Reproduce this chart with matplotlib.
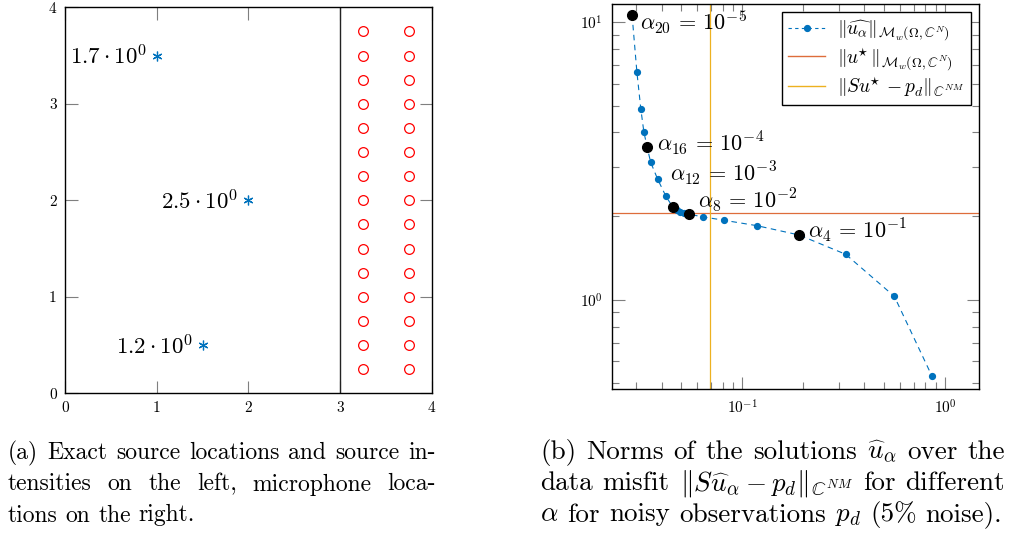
import numpy as np
import matplotlib
matplotlib.use("Agg")
import matplotlib.pyplot as plt
from matplotlib.lines import Line2D
from matplotlib.ticker import FixedLocator, FixedFormatter, NullFormatter, LogLocator

plt.rcParams['font.family'] = 'serif'
plt.rcParams['font.serif'] = ['cmr10']
plt.rcParams['mathtext.fontset'] = 'cm'
plt.rcParams['axes.formatter.use_mathtext'] = True
plt.rcParams['axes.unicode_minus'] = False

# ---------------- data: panel (a) ----------------
src_x = [1.0, 2.0, 1.5]
src_y = [3.5, 2.0, 0.5]
src_labels = [r'$1.7\cdot 10^{0}$', r'$2.5\cdot 10^{0}$', r'$1.2\cdot 10^{0}$']
mic_cols = [3.25, 3.75]
mic_rows = [0.25, 0.5, 0.75, 1.0, 1.25, 1.5, 1.75, 2.0, 2.25, 2.5, 2.75, 3.0, 3.25, 3.5, 3.75]
divider_x = 3.0
ticks_a = [0, 1, 2, 3, 4]

# ---------------- data: panel (b) ----------------
alpha_index = [20, 19, 18, 17, 16, 15, 14, 13, 12, 11, 10, 9, 8, 7, 6, 5, 4, 3, 2, 1]
misfit = [0.0286, 0.0302, 0.0316, 0.0327, 0.0339, 0.0353, 0.0382, 0.0420, 0.0455,
          0.0475, 0.0493, 0.0515, 0.0548, 0.0642, 0.0815, 0.1181, 0.1905, 0.3236, 0.5623, 0.863]
norm_u = [10.6, 6.62, 4.85, 4.02, 3.556, 3.13, 2.72, 2.357, 2.15,
          2.10, 2.07, 2.045, 2.03, 1.986, 1.931, 1.847, 1.71, 1.457, 1.028, 0.530]
marked = [20, 16, 12, 8, 4]
marked_exp = [-5, -4, -3, -2, -1]
norm_true = 2.058
misfit_true = 0.069

BLUE = '#0072BD'
ORANGE = '#D95319'
YELLOW = '#EDB120'
TICKC = '#7f7f7f'

fig = plt.figure(figsize=(10.11, 5.33), dpi=100)
W, H = 1011, 533

def px_axes(l, t, r, b):
    return [l / W, 1 - b / H, (r - l) / W, (b - t) / H]

# ---------------- panel (a) ----------------
ax1 = fig.add_axes(px_axes(65, 7.3, 431.7, 393.3))
ax1.set_xlim(0, 4)
ax1.set_ylim(0, 4)
ax1.axvline(divider_x, color='#222222', lw=1.0)
ax1.plot(src_x, src_y, ls='none', marker=(6, 2, 0), ms=7, mew=0.9, color=BLUE)
for x, y, lab in zip(src_x, src_y, src_labels):
    ax1.annotate(lab, xy=(x, y), xytext=(-10, -9), textcoords='offset pixels',
                 ha='right', va='baseline', fontsize=16.5)
for cx in mic_cols:
    ax1.plot([cx] * len(mic_rows), mic_rows, ls='none', marker='o', ms=7,
             mfc='none', mec='#ff0000', mew=0.9)
ax1.xaxis.set_major_locator(FixedLocator(ticks_a))
ax1.yaxis.set_major_locator(FixedLocator(ticks_a))
ax1.xaxis.set_major_formatter(FixedFormatter([str(t) for t in ticks_a]))
ax1.yaxis.set_major_formatter(FixedFormatter([str(t) for t in ticks_a]))
ax1.tick_params(direction='in', top=True, right=True, length=9, width=0.8,
                color=TICKC, labelsize=11, pad=6)
for s in ax1.spines.values():
    s.set_linewidth(1.0)

# ---------------- panel (b) ----------------
ax2 = fig.add_axes(px_axes(612.3, 4, 979.3, 389))
ax2.set_xscale('log')
ax2.set_yscale('log')
ax2.set_xlim(0.02285, 1.476)
ax2.set_ylim(0.477, 11.6)
ax2.axhline(norm_true, color=ORANGE, lw=0.9, zorder=1, alpha=0.85)
ax2.axvline(misfit_true, color=YELLOW, lw=0.9, zorder=1)
ax2.plot(misfit, norm_u, ls=(0, (5, 4)), lw=0.8, color=BLUE, marker='o', ms=4.2, zorder=3)
for k, e in zip(marked, marked_exp):
    i = alpha_index.index(k)
    ax2.plot(misfit[i], norm_u[i], 'o', color='black', ms=7, zorder=4)
label_off = {20: (8, -15), 16: (9.7, -4), 12: (-3, 26.5), 8: (9, 6.5), 4: (9.3, -2.3)}
for k, e in zip(marked, marked_exp):
    i = alpha_index.index(k)
    ax2.annotate(r'$\alpha_{%d}\,=\,10^{%d}$' % (k, e), xy=(misfit[i], norm_u[i]),
                 xytext=label_off[k], textcoords='offset pixels', ha='left',
                 va='baseline', fontsize=16, zorder=5)
ax2.xaxis.set_major_locator(FixedLocator([0.1, 1.0]))
ax2.xaxis.set_major_formatter(FixedFormatter([r'$10^{-1}$', r'$10^{0}$']))
ax2.yaxis.set_major_locator(FixedLocator([1.0, 10.0]))
ax2.yaxis.set_major_formatter(FixedFormatter([r'$10^{0}$', r'$10^{1}$']))
ax2.xaxis.set_minor_locator(LogLocator(base=10, subs=np.arange(2, 10), numticks=20))
ax2.yaxis.set_minor_locator(LogLocator(base=10, subs=np.arange(2, 10), numticks=20))
ax2.xaxis.set_minor_formatter(NullFormatter())
ax2.yaxis.set_minor_formatter(NullFormatter())
ax2.tick_params(which='major', direction='in', top=True, right=True, length=9, width=0.8,
                color=TICKC, labelsize=11, pad=7)
ax2.tick_params(which='minor', direction='in', top=True, right=True, length=5, width=0.8,
                color=TICKC)
for s in ax2.spines.values():
    s.set_linewidth(1.0)

handles = [
    Line2D([], [], color=BLUE, ls=(0, (3, 3)), lw=0.8, marker='o', ms=4.2),
    Line2D([], [], color=ORANGE, lw=1.0, alpha=0.85),
    Line2D([], [], color=YELLOW, lw=1.0),
]
labels = [
    r'$\Vert\widehat{u_\alpha}\Vert_{\mathcal{M}_w(\mathit{\Omega},\mathbb{C}^N)}$',
    r'$\Vert u^{\!\!\star}\Vert_{\mathcal{M}_w(\mathit{\Omega},\mathbb{C}^N)}$',
    r'$\Vert Su^{\!\!\star} - p_d\Vert_{\mathbb{C}^{NM}}$',
]
leg = ax2.legend(handles, labels, loc='upper right', bbox_to_anchor=(0.977, 0.979),
                 fontsize=14, frameon=True, fancybox=False, edgecolor='black',
                 framealpha=1, numpoints=1, handlelength=1.9, handletextpad=0.6,
                 labelspacing=0.15, borderpad=0.35, borderaxespad=0)
leg.get_frame().set_linewidth(1.0)

# ---------------- captions ----------------
cap_a = [
    ["(a)", "Exact", "source", "locations", "and", "source", "in-"],
    ["tensities", "on", "the", "left,", "microphone", "loca-"],
    ["tions", "on", "the", "right."],
]
cap_b = [
    ["(b)", "Norms", "of", "the", "solutions", r"$\widehat{u}_\alpha$", "over", "the"],
    ["data", "misfit", r"$\Vert S\widehat{u}_\alpha - p_d\Vert_{\mathbb{C}^{NM}}$", "for", "different"],
    [r"$\alpha$", "for", "noisy", "observations", r"$p_d$", "(5%", "noise)."],
]
baselines = [459, 490.5, 521.5]

renderer = fig.canvas.get_renderer()

def draw_line(words, x0, x1, yb, fs, justify):
    texts = [fig.text(0, 1 - yb / H, w, fontsize=fs, va='baseline', ha='left') for w in words]
    widths = [t.get_window_extent(renderer).width for t in texts]
    space = fs * 100 / 72 * 0.333
    if justify and len(words) > 1:
        space = (x1 - x0 - sum(widths)) / (len(words) - 1)
    x = x0
    for t, w in zip(texts, widths):
        t.set_x(x / W)
        x += w + space

for i, (words, yb) in enumerate(zip(cap_a, baselines)):
    draw_line(words, 8, 436, yb, 17, i < 2)
for i, (words, yb) in enumerate(zip(cap_b, baselines)):
    draw_line(words, 540, 1005, yb, 19.5, i < 2)

fig.savefig('out.png', dpi=100)
